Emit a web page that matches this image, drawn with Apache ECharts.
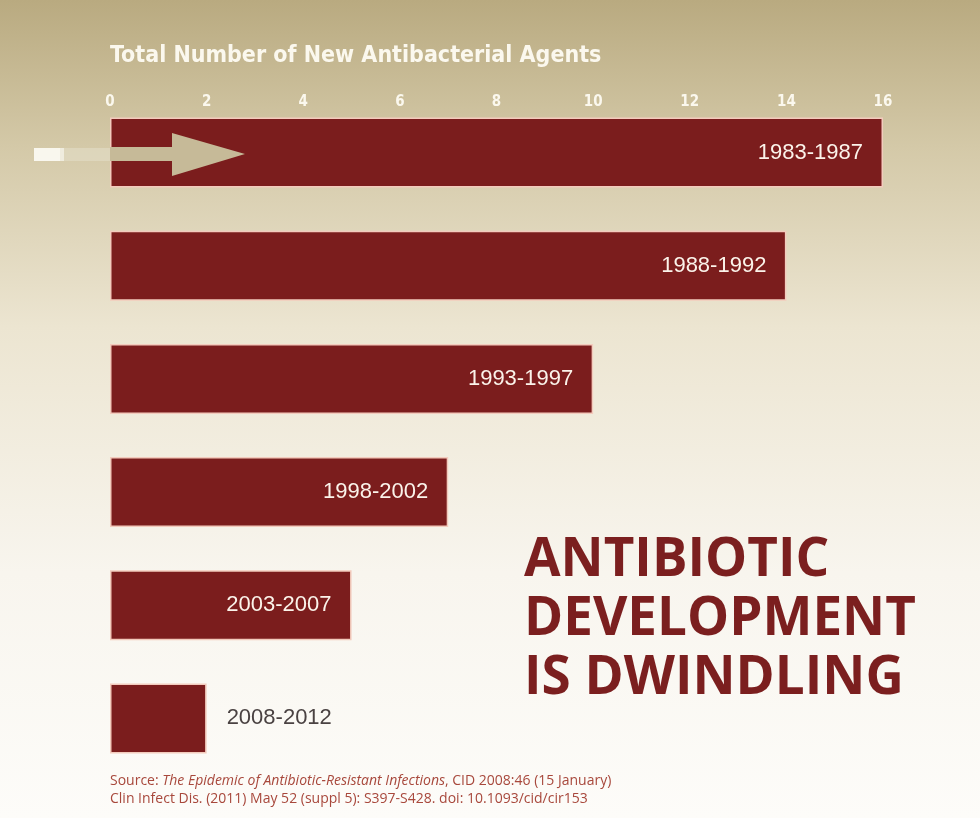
<!DOCTYPE html>
<html><head><meta charset="utf-8">
<script src="https://cdn.jsdelivr.net/npm/echarts@6/dist/echarts.min.js"></script>
<style>html,body{margin:0;padding:0;}#c{width:980px;height:818px;}</style>
</head><body><div id="c"></div>
<script>
var periods = ['1983-1987','1988-1992','1993-1997','1998-2002','2003-2007','2008-2012'];
var agents = [16, 14, 10, 7, 5, 2];
var xTicks = [0, 2, 4, 6, 8, 10, 12, 14, 16];

var chart = echarts.init(document.getElementById('c'));
var cond = "'DejaVu Sans Condensed','DejaVu Sans',sans-serif";
var sans = "'Liberation Sans',sans-serif";
var last = agents.length - 1;
var barData = agents.map(function(v, i){
  return i === last ? {value:v, label:{color:'#4a4242'}} : {value:v};
});
chart.setOption({
  backgroundColor: {type:'linear', x:0, y:0, x2:0, y2:1, colorStops:[
    {offset:0, color:'#b9aa80'}, {offset:0.18, color:'#d4c9a8'}, {offset:0.4, color:'#ece5d1'},
    {offset:0.7, color:'#f8f5ee'}, {offset:1, color:'#fdfcf9'}]},
  grid: {left:110, right:97, top:96, height:679, containLabel:false},
  xAxis: {
    type:'value', position:'top', min:0, max:16, interval:2,
    splitLine:{show:false}, axisLine:{show:false}, axisTick:{show:false},
    axisLabel:{margin:-14, color:'#fbf8ee', fontWeight:'bold', fontSize:15, fontFamily:cond,
      formatter:function(v){ return xTicks.indexOf(v) >= 0 ? String(v) : ''; }},
    name:'Total Number of New Antibacterial Agents', nameLocation:'start', nameGap:0,
    nameTextStyle:{color:'#fbf8ee', fontWeight:'bold', fontSize:23, fontFamily:cond, align:'left', verticalAlign:'bottom', padding:[0,0,28,0]}
  },
  yAxis: {
    type:'category', inverse:true, data:periods,
    axisLine:{show:false}, axisTick:{show:false}, axisLabel:{show:false}
  },
  series: [{
    type:'bar', data:barData, barWidth:70,
    itemStyle:{color:'#7b1d1d', borderColor:'#f3cbbd', borderWidth:1.5},
    label:{show:true, position:'insideRight', distance:20, color:'#fbf3ea', fontSize:22, fontFamily:sans,
      formatter:function(p){ return periods[p.dataIndex]; }},
    labelLayout:function(params){
      if (params.dataIndex === last) {
        return {x: params.rect.x + params.rect.width + 20, y: params.rect.y + params.rect.height/2,
                align:'left', verticalAlign:'middle'};
      }
    },
    silent:true
  }],
  graphic: [
    {type:'rect', shape:{x:34, y:148, width:30, height:13}, style:{fill:'rgba(255,255,250,0.85)'}, z:10},
    {type:'rect', shape:{x:60, y:148, width:50, height:13}, style:{fill:'rgba(230,225,205,0.5)'}, z:10},
    {type:'polygon', shape:{points:[[110,147],[172,147],[172,133],[245,154],[172,176],[172,161],[110,161]]}, style:{fill:'#c6ba98'}, z:10},
    {type:'text', left:524, top:531, style:{text:'ANTIBIOTIC\nDEVELOPMENT\nIS DWINDLING', fill:'#7b1f1f', font:"bold 53px 'Open Sans', sans-serif", lineHeight:59}, z:10},
    {type:'text', left:110, top:774, style:{
      text:'{n|Source: }{i|The Epidemic of Antibiotic-Resistant Infections}{n|, CID 2008:46 (15 January)}\n{n|Clin Infect Dis. (2011) May 52 (suppl 5): S397-S428. doi: 10.1093/cid/cir153}',
      rich:{n:{fill:'#a8483c', fontSize:14, fontFamily:"'Open Sans',sans-serif", lineHeight:18},
            i:{fill:'#a8483c', fontSize:14, fontStyle:'italic', fontFamily:"'Open Sans',sans-serif", lineHeight:18}}}, z:10}
  ]
});
</script></body></html>
